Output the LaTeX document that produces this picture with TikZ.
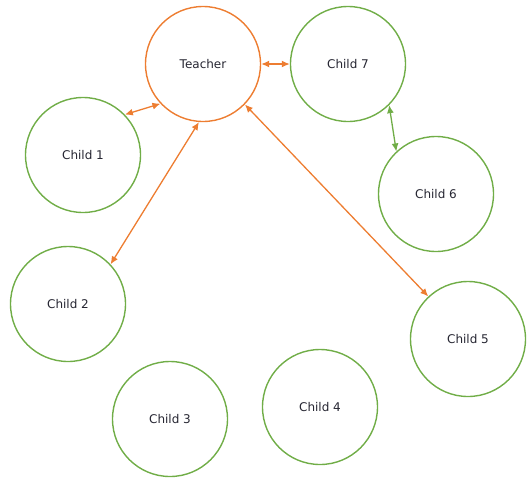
\documentclass[tikz,border=0pt]{standalone}
\usepackage{fontspec}
\setmainfont{DejaVu Sans}
\usetikzlibrary{arrows.meta}
\definecolor{tealine}{RGB}{237,125,49}
\definecolor{kidline}{RGB}{112,173,71}
\definecolor{labeltext}{RGB}{38,38,50}
\tikzset{
  person/.style={circle, draw, line width=1.4pt, minimum size=115pt, inner sep=0pt,
    text=labeltext, font=\fontsize{12}{14}\selectfont},
  teacher/.style={person, draw=tealine},
  child/.style={person, draw=kidline},
  link/.style={line width=1.3pt, {Latex[length=8pt,width=7pt]}-{Latex[length=8pt,width=7pt]}},
}
\begin{document}
\begin{tikzpicture}[x=1pt,y=-1pt]
  \useasboundingbox (0,0) rectangle (527,477);
  \node[teacher] (t)  at (203,64)  {Teacher};
  \node[child]   (c7) at (348,64)  {Child 7};
  \node[child]   (c1) at (83,155)  {Child 1};
  \node[child]   (c6) at (436,194) {Child 6};
  \node[child]   (c2) at (68,304)  {Child 2};
  \node[child]   (c5) at (468,339) {Child 5};
  \node[child]   (c3) at (170,419) {Child 3};
  \node[child]   (c4) at (320,407) {Child 4};

  \draw[link, tealine] (t) -- (c7);
  \draw[link, tealine] (c1.44) -- (t.223);
  \draw[link, tealine] (t.266) -- (c2.43);
  \draw[link, tealine] (t.316) -- (c5.133);
  \draw[link, kidline] (c7.315) -- (c6.133);
\end{tikzpicture}
\end{document}
